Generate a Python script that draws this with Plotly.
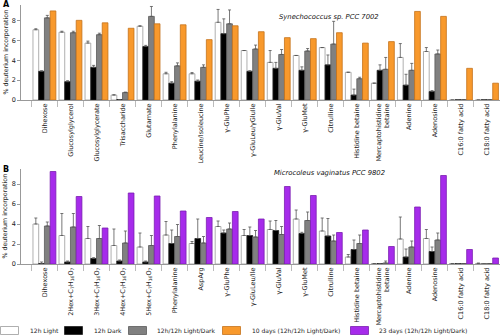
import plotly.graph_objects as go

W, H = 500, 335

# ---------------- Panel A: Synechococcus sp. PCC 7002 ----------------
cats_a = ["Dihexose", "Glucosylglycerol", "Glucosylglycerate", "Trisaccharide",
          "Glutamate", "Phenylalanine", "Leucine/Isoleucine", "γ-GluPhe",
          "γ-GluLeu/γGluIle", "γ-GluVal", "γ-GluMet", "Citrulline",
          "Histidine betaine", "Mercaptohistidine<br>betaine", "Adenine",
          "Adenosine", "C16:0 fatty acid", "C18:0 fatty acid"]
light_a = [7.1, 6.85, 5.75, 0.5, 7.45, 2.65, 2.65, 7.85, 5.0, 3.8, 4.5, 5.3, 2.8, 1.7, 4.3, 4.9, 0.0, 0.0]
light_a_err = [0.1, 0.1, 0.2, 0.03, 0.05, 0.15, 0.12, 1.3, 0.0, 1.2, 0.0, 0.0, 0.0, 0.0, 1.4, 0.4, 0.0, 0.0]
dark_a = [2.9, 1.85, 3.3, 0.05, 5.4, 1.7, 1.9, 6.7, 2.9, 3.2, 3.0, 3.55, 0.5, 3.0, 1.5, 0.85, 0.03, 0.03]
dark_a_err = [0.05, 0.1, 0.2, 0.0, 0.12, 0.15, 0.12, 1.5, 0.05, 0.6, 0.35, 1.0, 0.6, 0.55, 1.1, 0.1, 0.0, 0.0]
cycle_a = [8.3, 6.8, 6.6, 0.75, 8.45, 3.45, 3.3, 7.7, 5.15, 4.6, 4.95, 5.65, 2.15, 3.1, 3.0, 4.65, 0.03, 0.03]
cycle_a_err = [0.25, 0.15, 0.15, 0.05, 1.0, 0.3, 0.25, 1.4, 0.4, 0.5, 0.25, 2.3, 0.15, 1.2, 0.7, 0.4, 0.0, 0.0]
days10_a = [9.0, 8.05, 7.8, 7.25, 7.7, 7.6, 6.1, 7.5, 6.9, 6.3, 6.2, 6.8, 5.75, 5.9, 8.95, 8.45, 3.2, 1.7]

# ---------------- Panel B: Microcoleus vaginatus PCC 9802 ----------------
hexc = "Hex+C<sub>7</sub>H<sub>16</sub>O<sub>7</sub>"
cats_b = ["Dihexose", "2" + hexc, "3" + hexc, "4" + hexc, "5" + hexc,
          "Phenylalanine", "AspArg", "γ-GluPhe", "γ-GluLeu/Ile", "γ-GluVal",
          "γ-GluMet", "Citrulline", "Histidine betaine",
          "Mercaptohistidine<br>betaine", "Adenine", "Adenosine",
          "C16:0 fatty acid", "C18:0 fatty acid"]
light_b = [4.0, 2.85, 2.55, 1.85, 1.7, 2.9, 2.05, 3.75, 2.85, 3.45, 4.5, 3.3, 0.7, 0.05, 2.5, 2.55, 0.05, 0.05]
light_b_err = [0.6, 2.2, 1.2, 1.65, 1.4, 1.35, 0.2, 0.55, 0.6, 0.85, 0.9, 1.3, 0.25, 0.0, 2.2, 0.9, 0.0, 0.05]
dark_b = [0.05, 0.2, 0.55, 0.3, 0.2, 2.05, 2.55, 3.1, 2.85, 3.35, 3.05, 2.8, 1.45, 0.05, 0.7, 1.25, 0.05, 0.0]
dark_b_err = [0.15, 0.1, 0.08, 0.1, 0.1, 1.35, 1.95, 0.3, 0.85, 1.0, 0.12, 1.75, 0.95, 0.0, 0.8, 0.45, 0.0, 0.0]
cycle_b = [3.8, 3.7, 2.55, 2.1, 1.85, 2.75, 2.1, 3.5, 2.7, 2.95, 4.35, 2.3, 2.05, 0.1, 1.7, 2.4, 0.05, 0.05]
cycle_b_err = [0.4, 1.35, 1.3, 1.2, 1.0, 1.2, 0.65, 0.6, 0.65, 0.8, 0.85, 0.6, 0.85, 0.2, 0.6, 0.7, 0.0, 0.0]
days23_b = [9.25, 6.75, 3.6, 7.1, 6.8, 5.3, 4.65, 5.25, 4.5, 7.75, 6.85, 3.15, 3.4, 1.75, 5.7, 8.85, 1.45, 0.6]

legend_labels = ["12h Light", "12h Dark", "12h/12h Light/Dark",
                 "10 days (12h/12h Light/Dark)", "23 days (12h/12h Light/Dark)"]

FILL = ["#ffffff", "#000000", "#808080", "#F8992C", "#A62BEB"]
EDGE = ["#9a9a9a", "#222222", "#5a5a5a", "#C4721C", "#7A1FB0"]
FONT = "DejaVu Sans"


def py(px):
    """pixel row (from top) -> paper y"""
    return 1 - px / H


def px_x(px):
    return px / W


fig = go.Figure()


def add_bar(x, y, err, k, xa, ya):
    kw = {}
    if err is not None:
        kw["error_y"] = dict(type="data", symmetric=False, array=err,
                             arrayminus=[0] * len(err), color="#555555",
                             thickness=0.8, width=1.5)
    fig.add_trace(go.Bar(x=x, y=y, xaxis=xa, yaxis=ya, showlegend=False,
                         marker=dict(color=FILL[k], line=dict(color=EDGE[k], width=0.8)),
                         **kw))


add_bar(cats_a, light_a, light_a_err, 0, "x", "y")
add_bar(cats_a, dark_a, dark_a_err, 1, "x", "y")
add_bar(cats_a, cycle_a, cycle_a_err, 2, "x", "y")
add_bar(cats_a, days10_a, None, 3, "x", "y")

add_bar(cats_b, light_b, light_b_err, 0, "x2", "y2")
add_bar(cats_b, dark_b, dark_b_err, 1, "x2", "y2")
add_bar(cats_b, cycle_b, cycle_b_err, 2, "x2", "y2")
add_bar(cats_b, days23_b, None, 4, "x2", "y2")

xcommon = dict(type="category", range=[-0.9, 17.5], showline=True,
               linecolor="#999999", linewidth=0.8, ticks="outside",
               tickson="boundaries", ticklen=6, tickcolor="#bbbbbb",
               tickwidth=0.8, tickangle=-90, showgrid=False, zeroline=False,
               tickfont=dict(family=FONT, size=6.5, color="#222222"),
               automargin=False, domain=[px_x(21), 1.0])
ycommon = dict(showline=True, linecolor="#999999", linewidth=0.8,
               ticks="outside", ticklen=3, tickcolor="#999999", tickwidth=0.8,
               tickvals=[0, 2, 4, 6, 8], showgrid=False, zeroline=False,
               tickfont=dict(family=FONT, size=6.5, color="#222222"),
               automargin=False)

fig.update_layout(
    width=W, height=H, margin=dict(l=0, r=0, t=0, b=0),
    paper_bgcolor="white", plot_bgcolor="white",
    barmode="group", bargap=0.12, bargroupgap=0.0,
    font=dict(family=FONT, color="#222222"),
    xaxis=dict(**xcommon, anchor="y", categoryorder="array", categoryarray=cats_a),
    yaxis=dict(**ycommon, range=[0, 9.6], domain=[py(100), py(5)], anchor="x"),
    xaxis2=dict(**xcommon, anchor="y2", categoryorder="array", categoryarray=cats_b),
    yaxis2=dict(**ycommon, range=[0, 9.5], domain=[py(264), py(169)], anchor="x2"),
)

ann = []
# panel letters
ann.append(dict(text="<b>A</b>", x=px_x(1), y=py(4), xref="paper", yref="paper",
                xanchor="left", yanchor="middle", showarrow=False,
                font=dict(family=FONT, size=8, color="#000")))
ann.append(dict(text="<b>B</b>", x=px_x(1), y=py(169), xref="paper", yref="paper",
                xanchor="left", yanchor="middle", showarrow=False,
                font=dict(family=FONT, size=8, color="#000")))
# panel titles
ann.append(dict(text="<i>Synechococcus sp. PCC 7002</i>", x=px_x(329), y=py(11),
                xref="paper", yref="paper", showarrow=False,
                font=dict(family=FONT, size=6.8, color="#111")))
ann.append(dict(text="<i>Microcoleus vaginatus PCC 9802</i>", x=px_x(329), y=py(173),
                xref="paper", yref="paper", showarrow=False,
                font=dict(family=FONT, size=6.8, color="#111")))
# y-axis titles
for yc in (52.5, 216.5):
    ann.append(dict(text="% deuterium incorporation", x=px_x(0), y=py(yc),
                    xref="paper", yref="paper", textangle=-90, showarrow=False,
                    xanchor="left", yanchor="middle", borderpad=0,
                    font=dict(family=FONT, size=6.3, color="#222")))

# legend swatches and labels
shapes = []
legend_pos = [(0, 28), (64, 92), (128, 155), (222, 250), (350, 377)]
for k, (bx, tx) in enumerate(legend_pos):
    shapes.append(dict(type="rect", xref="paper", yref="paper",
                       x0=px_x(bx + 0.5), x1=px_x(bx + 18.5), y0=py(334.5), y1=py(326.5),
                       fillcolor=FILL[k], line=dict(color=EDGE[k], width=0.8)))
    ann.append(dict(text=legend_labels[k], x=px_x(tx), y=py(330.5), xref="paper",
                    yref="paper", xanchor="left", yanchor="middle", showarrow=False,
                    font=dict(family=FONT, size=6.0, color="#222")))

fig.update_layout(annotations=ann, shapes=shapes)

fig.write_html("out.html")
